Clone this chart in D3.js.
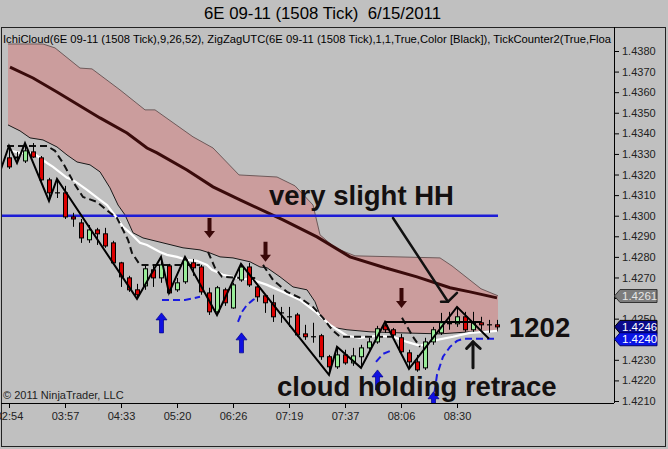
<!DOCTYPE html>
<html><head><meta charset="utf-8">
<script src="https://cdn.jsdelivr.net/npm/d3@7"></script>
<style>body{margin:0;background:#c0c0c0;overflow:hidden}svg{display:block}</style>
</head><body>
<svg id="c" width="668" height="449"></svg>
<script>
// ---------- data ----------
const titleText = "6E 09-11 (1508 Tick)  6/15/2011";
const legendText = "IchiCloud(6E 09-11 (1508 Tick),9,26,52), ZigZagUTC(6E 09-11 (1508 Tick),1,1,True,Color [Black]), TickCounter2(True,Floa";
const copyrightText = "\u00A9 2011 NinjaTrader, LLC";
const timeLabels = ["02:54","03:57","04:33","05:20","06:26","07:19","07:37","08:06","08:30"];
const timeTickBars = [0,7,14,21,28,35,42,49,56];
const priceTicks = [1.4210,1.4220,1.4230,1.4240,1.4250,1.4260,1.4270,1.4280,1.4290,1.4300,1.4310,1.4320,1.4330,1.4340,1.4350,1.4360,1.4370,1.4380];
const hiddenTickLabels = [1.4260]; // covered by the 1.4261 marker in the reference

const opens  = [1.43281,1.43281,1.43266,1.43310,1.43281,1.43174,1.43111,1.43111,1.42994,1.42965,1.42883,1.42931,1.42912,1.42868,1.42771,1.42698,1.42640,1.42659,1.42737,1.42698,1.42756,1.42640,1.42679,1.42771,1.42751,1.42625,1.42533,1.42640,1.42552,1.42688,1.42751,1.42654,1.42611,1.42577,1.42528,1.42509,1.42518,1.42426,1.42412,1.42417,1.42315,1.42266,1.42324,1.42285,1.42315,1.42358,1.42387,1.42465,1.42446,1.42407,1.42334,1.42290,1.42261,1.42387,1.42431,1.42480,1.42475,1.42509,1.42446,1.42480,1.42470,1.42470];
const highs  = [1.43339,1.43310,1.43353,1.43353,1.43290,1.43184,1.43179,1.43145,1.43014,1.42984,1.42955,1.42941,1.42941,1.42878,1.42776,1.42708,1.42669,1.42756,1.42761,1.42800,1.42766,1.42698,1.42800,1.42790,1.42761,1.42650,1.42659,1.42650,1.42674,1.42766,1.42771,1.42664,1.42620,1.42616,1.42557,1.42557,1.42528,1.42470,1.42480,1.42426,1.42324,1.42363,1.42349,1.42358,1.42373,1.42407,1.42465,1.42484,1.42455,1.42426,1.42349,1.42324,1.42407,1.42460,1.42528,1.42533,1.42557,1.42533,1.42533,1.42509,1.42494,1.42494];
const lows   = [1.43227,1.43256,1.43256,1.43281,1.43169,1.43072,1.43086,1.42984,1.42946,1.42868,1.42868,1.42858,1.42844,1.42766,1.42654,1.42630,1.42596,1.42640,1.42654,1.42674,1.42620,1.42630,1.42669,1.42708,1.42616,1.42518,1.42518,1.42562,1.42548,1.42679,1.42654,1.42582,1.42528,1.42484,1.42480,1.42460,1.42412,1.42397,1.42383,1.42300,1.42227,1.42256,1.42276,1.42271,1.42261,1.42349,1.42378,1.42431,1.42412,1.42329,1.42256,1.42242,1.42251,1.42373,1.42421,1.42446,1.42460,1.42436,1.42436,1.42446,1.42431,1.42446];
const closes = [1.43237,1.43285,1.43315,1.43285,1.43174,1.43111,1.43111,1.42994,1.42984,1.42892,1.42931,1.42912,1.42853,1.42771,1.42703,1.42640,1.42616,1.42742,1.42698,1.42761,1.42625,1.42674,1.42785,1.42747,1.42630,1.42533,1.42650,1.42577,1.42664,1.42751,1.42664,1.42606,1.42577,1.42509,1.42528,1.42509,1.42421,1.42412,1.42412,1.42315,1.42266,1.42324,1.42285,1.42319,1.42358,1.42387,1.42451,1.42446,1.42421,1.42339,1.42290,1.42251,1.42387,1.42446,1.42480,1.42475,1.42509,1.42446,1.42480,1.42470,1.42470,1.42460];

// Ichimoku cloud edges [bar, price]
const cloudTop = [[-0.125,1.43834],[4.25,1.43834],[5.75,1.43815],[8.875,1.43717],[10.375,1.43713],[13.875,1.43611],[17,1.43514],[18.25,1.43514],[23,1.43383],[25.5,1.43329],[28.75,1.43198],[33.5,1.43188],[35.75,1.43145],[38,1.43052],[38.875,1.42907],[40.75,1.42844],[43.25,1.42805],[53.875,1.42795],[55.375,1.42756],[59,1.42645],[61.125,1.42611]];
const cloudBottom = [[-0.125,1.43441],[1.375,1.43412],[2.625,1.43378],[4.25,1.43368],[6,1.43334],[7.25,1.43295],[8.5,1.43261],[10.125,1.43247],[11.375,1.43213],[12.625,1.43135],[13.625,1.43052],[14.5,1.43004],[15.5,1.42917],[16.75,1.42892],[19.25,1.42868],[21.75,1.42844],[23.875,1.42834],[25.125,1.42819],[26.375,1.42800],[28,1.42795],[30.125,1.42776],[31.375,1.42751],[32.25,1.42747],[33.875,1.42703],[35.5,1.42654],[37.25,1.42640],[38.25,1.42582],[38.875,1.42518],[40.125,1.42460],[42.25,1.42446],[45.125,1.42436],[48.875,1.42431],[53.875,1.42426],[57.625,1.42436],[61.125,1.42441]];
const thickLine = [[0.125,1.43722],[3,1.43669],[6,1.43601],[11.375,1.43475],[14.75,1.43402],[17.25,1.43329],[18.5,1.43305],[22.25,1.43222],[25.5,1.43140],[28.875,1.43077],[34.25,1.42980],[38.5,1.42897],[42.625,1.42800],[47,1.42747],[51,1.42703],[55.125,1.42650],[57.625,1.42630],[61,1.42601]];
const whiteLine = [[-0.125,1.43319],[1.375,1.43305],[3,1.43305],[4.75,1.43256],[5.5,1.43237],[7.25,1.43184],[8,1.43174],[9.75,1.43125],[11.375,1.43077],[12.25,1.43052],[13,1.43014],[13.5,1.42989],[14.25,1.42946],[15.125,1.42917],[16.375,1.42868],[17.25,1.42858],[18.875,1.42824],[19.75,1.42810],[21,1.42800],[22.25,1.42785],[23.5,1.42781],[24.75,1.42761],[25.375,1.42737],[26.75,1.42713],[28.5,1.42698],[30.5,1.42688],[32.25,1.42664],[34.25,1.42630],[36.375,1.42591],[38.5,1.42528],[40.125,1.42470],[42.25,1.42417],[43.875,1.42407],[46,1.42417],[48,1.42412],[49.75,1.42387],[51.375,1.42368],[53.5,1.42397],[55.5,1.42412],[57.625,1.42431],[61,1.42441]];
const dashedSegs = [
  [[-0.25,1.43339],[4.75,1.43339],[5.75,1.43315],[6.75,1.43256],[8.25,1.43150],[9.25,1.43091],[11,1.43067],[12.625,1.43014],[13.5,1.42989],[14.25,1.42931],[14.875,1.42883],[15.375,1.42819],[16.375,1.42761],[23.875,1.42761]],
  [[24.875,1.42824],[25.75,1.42747],[26.625,1.42703],[28.875,1.42698],[31.125,1.42698]],
  [[31.75,1.42761],[33,1.42688],[34.75,1.42630],[36.375,1.42601],[38,1.42557],[39.25,1.42504],[40.375,1.42446],[41.375,1.42412],[48.625,1.42412]],
  [[49.125,1.42504],[50.5,1.42412],[51.375,1.42363]]
];
const blueDashedSegs = [
  [[19.125,1.42591],[22,1.42591],[23.875,1.42606]],
  [[28.625,1.42484],[29.125,1.42533],[29.75,1.42567],[30.5,1.42591],[31.125,1.42606]],
  [[45.875,1.42290],[46.75,1.42329],[48,1.42349]],
  [[53,1.42091],[53.5,1.42227],[54.25,1.42315],[55.125,1.42363],[56,1.42392],[56.75,1.42402],[61,1.42402]]
];
const zigzag = [[-1.125,1.43213],[0,1.43339],[1,1.43256],[2,1.43353],[5,1.43072],[6,1.43179],[16,1.42596],[19,1.42800],[20,1.42625],[22,1.42800],[26,1.42518],[29,1.42766],[40,1.42227],[41,1.42363],[44,1.42261],[47,1.42484],[50,1.42256],[56,1.42557],[60,1.42402]];
const hLevel = {from:47, to:59, price:1.42484};
const blueLevel = {from:-1.125, to:61.125, price:1.4300};
const downArrows = [[25,1.42892],[32,1.42776],[49,1.42552]];
const upArrows = [[19,1.42528],[29,1.42431],[46,1.42251],[53,1.42145]];
const hhArrow = {from:[48,1.42989], tip:[54.875,1.42582], armL:[54,1.42582], armR:[56,1.42625]};
const upAnnot = {bar:58, tip:1.42387, base:1.42261, armL:57.2, armR:58.9, armP:1.42355};
const notes = [
  {text:"very slight HH", bar:32.5, price:1.43053},
  {text:"1202", bar:62.5, price:1.42412},
  {text:"cloud holding retrace", bar:33.5, price:1.42125}
];
const markers = [
  {label:"1.4261", price:1.4261, fill:"#7c7c7c", stroke:"#333", color:"#e6e6e6"},
  {label:"1.4246", price:1.4246, fill:"#0a0a8c", stroke:"#000", color:"#ffffff"},
  {label:"1.4240", price:1.4240, fill:"#0a14e6", stroke:"#00006a", color:"#ffffff"}
];

// ---------- drawing ----------
const svg = d3.select("#c");
const W=668,H=449, L=1, T=27, R=614, B=403;
const x = d3.scaleLinear().domain([0,61]).range([9,497]);
const y = d3.scaleLinear().domain([1.4210,1.4380]).range([401,51]);
const font = "Arial, 'Liberation Sans', sans-serif";

svg.append("rect").attr("width",W).attr("height",H).attr("fill","#c0c0c0");
svg.append("defs").append("clipPath").attr("id","plot").append("rect").attr("x",L).attr("y",T).attr("width",R-L).attr("height",B-T);

svg.append("text").attr("x",204).attr("y",19).attr("xml:space","preserve").style("white-space","pre")
  .attr("font-family",font).attr("font-size",16).attr("textLength",237).attr("lengthAdjust","spacingAndGlyphs")
  .attr("fill","#000").text(titleText);

const g = svg.append("g").attr("clip-path","url(#plot)");
const line = d3.line().x(d=>x(d[0])).y(d=>y(d[1]));

// cloud
const poly = cloudTop.concat(cloudBottom.slice().reverse());
g.append("path").attr("d", line(poly)+"Z").attr("fill","#cb9d9d");
g.append("path").attr("d", line(cloudTop)).attr("fill","none").attr("stroke","#6e5a5a").attr("stroke-width",1);
g.append("path").attr("d", line(cloudBottom)).attr("fill","none").attr("stroke","#1a1a1a").attr("stroke-width",1);
g.append("path").attr("d", line(thickLine)).attr("fill","none").attr("stroke","#3a0b0b").attr("stroke-width",3);

// blue level
g.append("line").attr("x1",x(blueLevel.from)).attr("x2",x(blueLevel.to))
  .attr("y1",y(blueLevel.price)).attr("y2",y(blueLevel.price))
  .attr("stroke","#1c1cd6").attr("stroke-width",2.5);

// white & dashed
g.append("path").attr("d", line(whiteLine)).attr("fill","none").attr("stroke","#ffffff").attr("stroke-width",2.2);
dashedSegs.forEach(s=>g.append("path").attr("d",line(s)).attr("fill","none").attr("stroke","#111").attr("stroke-width",2).attr("stroke-dasharray","7,4"));
blueDashedSegs.forEach(s=>g.append("path").attr("d",line(s)).attr("fill","none").attr("stroke","#1a1ae0").attr("stroke-width",2).attr("stroke-dasharray","7,4"));

// candles
const bars = opens.map((o,i)=>({i,o,h:highs[i],l:lows[i],c:closes[i]}));
const cg = g.append("g");
bars.forEach(d=>{
  const cx = Math.round(x(d.i))+0.5;
  cg.append("line").attr("x1",cx).attr("x2",cx).attr("y1",y(d.h)).attr("y2",y(d.l)).attr("stroke","#000").attr("stroke-width",1);
  const top = y(Math.max(d.o,d.c)), bot = y(Math.min(d.o,d.c));
  if (Math.abs(d.o-d.c) < 0.00002) {
    cg.append("line").attr("x1",cx-2.5).attr("x2",cx+2.5).attr("y1",top).attr("y2",top).attr("stroke","#000").attr("stroke-width",1.2);
  } else {
    cg.append("rect").attr("x",cx-2).attr("width",4).attr("y",top).attr("height",Math.max(1,bot-top))
      .attr("fill", d.c>d.o ? "#98ec98" : "#dc0000").attr("stroke","#000").attr("stroke-width",1);
  }
});

// zigzag
g.append("path").attr("d", line(zigzag)).attr("fill","none").attr("stroke","#000").attr("stroke-width",2).attr("stroke-linejoin","miter");
g.append("line").attr("x1",x(hLevel.from)).attr("x2",x(hLevel.to)).attr("y1",y(hLevel.price)).attr("y2",y(hLevel.price))
  .attr("stroke","#000").attr("stroke-width",2);

// arrows
downArrows.forEach(d=>{
  g.append("path").attr("d","M0,0L-5.5,-7L-2,-7L-2,-20L2,-20L2,-7L5.5,-7Z")
   .attr("transform",`translate(${Math.round(x(d[0]))+0.5},${y(d[1])})`).attr("fill","#3a0808");
});
upArrows.forEach(d=>{
  g.append("path").attr("d","M0,0L-5.5,7L-2,7L-2,20L2,20L2,7L5.5,7Z")
   .attr("transform",`translate(${Math.round(x(d[0]))+0.5},${y(d[1])})`).attr("fill","#1010e0").attr("stroke","#00008a").attr("stroke-width",0.7);
});

// annotation lines
const ann = g.append("g").attr("stroke","#111").attr("stroke-width",2.5).attr("fill","none").attr("stroke-linecap","round");
ann.append("path").attr("d", line([hhArrow.from, hhArrow.tip]));
ann.append("path").attr("d", line([hhArrow.armL, hhArrow.tip, hhArrow.armR]));
ann.append("path").attr("d", line([[upAnnot.bar,upAnnot.base],[upAnnot.bar,upAnnot.tip]])).attr("stroke-width",3);
ann.append("path").attr("d", line([[upAnnot.armL,upAnnot.armP],[upAnnot.bar,upAnnot.tip],[upAnnot.armR,upAnnot.armP]])).attr("stroke-width",3);

// notes
notes.forEach(n=>{
  svg.append("text").attr("x",x(n.bar)).attr("y",y(n.price)).attr("font-family",font).attr("font-weight","bold")
    .attr("font-size",27.5).attr("fill","#141010").text(n.text);
});

// legend & copyright
g.append("text").attr("x",3).attr("y",43).attr("font-family",font).attr("font-size",11)
  .attr("textLength",608).attr("lengthAdjust","spacingAndGlyphs").attr("fill","#000").text(legendText);
g.append("text").attr("x",3).attr("y",399).attr("font-family",font).attr("font-size",11).attr("fill","#222").text(copyrightText);

// axes
const ya = svg.append("g").attr("transform",`translate(${R},0)`)
  .call(d3.axisRight(y).tickValues(priceTicks)
    .tickFormat(d=>hiddenTickLabels.some(h=>Math.abs(h-d)<1e-7) ? "" : d3.format(".4f")(d))
    .tickSize(5).tickPadding(3));
ya.select(".domain").remove();
ya.selectAll("text").attr("font-family",font).attr("font-size",11).attr("fill","#222");
ya.selectAll("line").attr("stroke","#000");

const xa = svg.append("g").attr("transform",`translate(0,${B})`)
  .call(d3.axisBottom(x).tickValues(timeTickBars).tickFormat((d,i)=>timeLabels[i]).tickSize(5).tickPadding(4));
xa.select(".domain").remove();
xa.selectAll("text").attr("font-family",font).attr("font-size",11).attr("fill","#222");
xa.selectAll("line").attr("stroke","#000");

// frame
svg.append("rect").attr("x",1.5).attr("y",T+0.5).attr("width",664).attr("height",419).attr("fill","none").attr("stroke","#222");
svg.append("line").attr("x1",R+0.5).attr("x2",R+0.5).attr("y1",T).attr("y2",B).attr("stroke","#000");
svg.append("line").attr("x1",L).attr("x2",R).attr("y1",B+0.5).attr("y2",B+0.5).attr("stroke","#000");

// price markers
markers.forEach(m=>{
  const yc = y(m.price);
  const mg = svg.append("g").attr("transform",`translate(${R},${yc})`);
  mg.append("path").attr("d","M0.5,0L6,-6.5L43,-6.5L43,6.5L6,6.5Z").attr("fill",m.fill).attr("stroke",m.stroke).attr("stroke-width",1);
  mg.append("text").attr("x",8).attr("y",4).attr("font-family",font).attr("font-size",11.5).attr("fill",m.color).text(m.label);
});
</script>
</body></html>
